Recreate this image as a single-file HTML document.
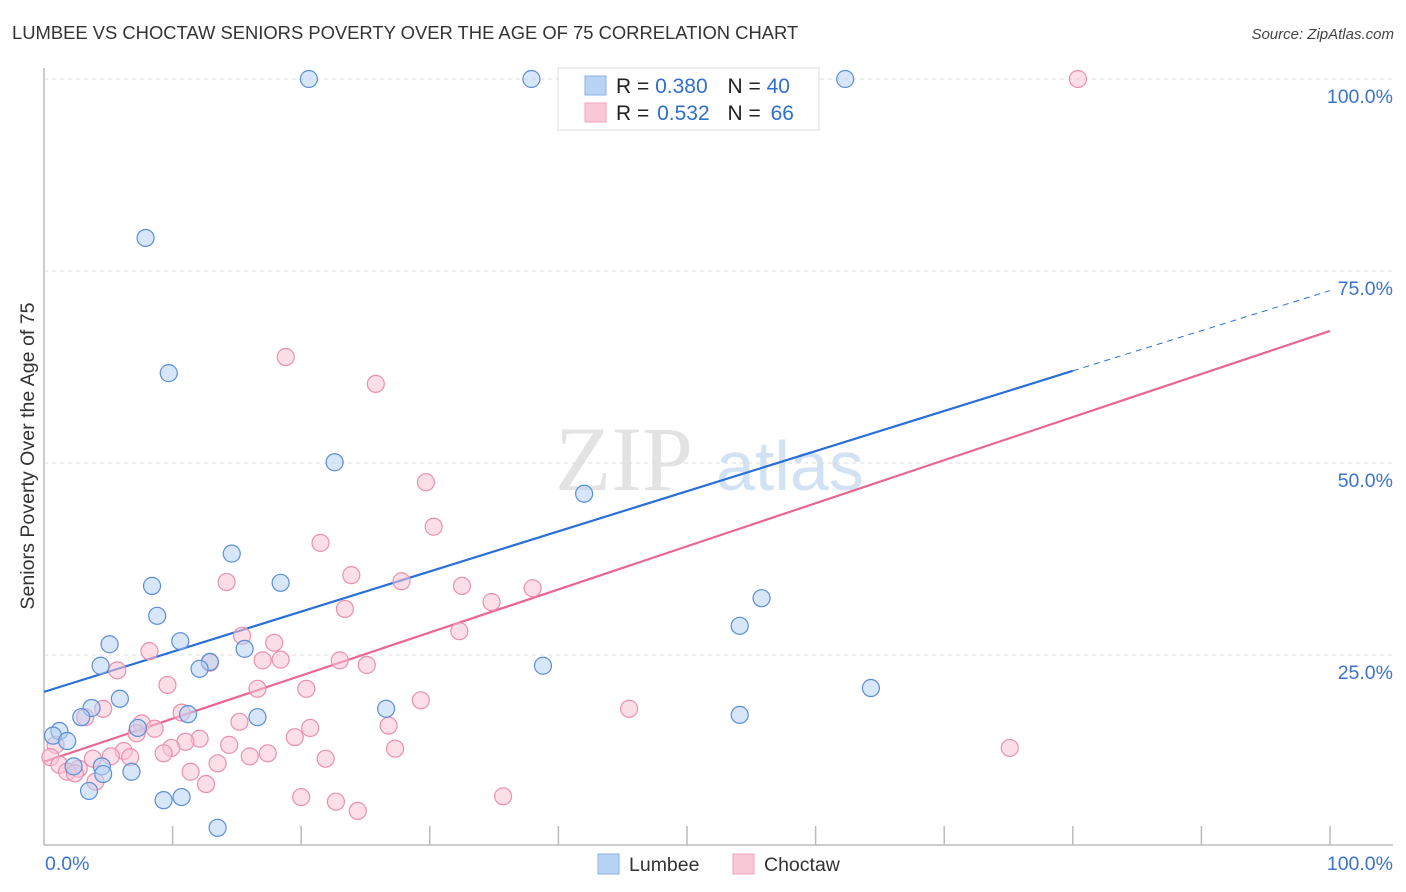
<!DOCTYPE html>
<html><head><meta charset="utf-8"><style>
body{margin:0;background:#fff;font-family:"Liberation Sans",sans-serif}
svg{display:block}
</style></head><body>
<svg id="chart" width="1406" height="892" viewBox="0 0 1406 892" xmlns="http://www.w3.org/2000/svg" font-family="Liberation Sans, sans-serif">
<text x="12" y="39" font-size="18.4" fill="#333">LUMBEE VS CHOCTAW SENIORS POVERTY OVER THE AGE OF 75 CORRELATION CHART</text>
<text x="1394" y="39" font-size="15" font-style="italic" fill="#444" text-anchor="end">Source: ZipAtlas.com</text>
<g>
<text x="555" y="490" font-size="92" font-family="Liberation Serif, serif" fill="#ddd" opacity="0.8">ZIP</text>
<text x="716" y="490" font-size="70" fill="#c9dcf1" opacity="0.8">atlas</text>
</g>
<g id="grid"></g>
<g id="axes"></g>
<text transform="translate(34,456) rotate(-90)" font-size="19.6" fill="#333" text-anchor="middle">Seniors Poverty Over the Age of 75</text>
<g id="lines"></g>
<g id="points"></g>
<g>
<rect x="558" y="68" width="261" height="62" fill="#fff" stroke="#ddd"/>
<rect x="585" y="76" width="21" height="19" fill="#b8d3f3" stroke="#8ab1e6"/>
<rect x="585" y="103" width="21" height="19" fill="#f9c8d6" stroke="#f0a3ba"/>
<text x="616" y="93" font-size="21" fill="#222">R = <tspan fill="#2f6fd0">0.380</tspan>  <tspan dx="14">N = </tspan><tspan fill="#2f6fd0">40</tspan></text>
<text x="616" y="120" font-size="21" fill="#222">R = <tspan fill="#2f6fd0" dx="2">0.532</tspan>  <tspan dx="12">N = </tspan><tspan fill="#2f6fd0" dx="4">66</tspan></text>
</g>
<g>
<rect x="598" y="854" width="21" height="20" fill="#b8d3f3" stroke="#8ab1e6"/>
<text x="629" y="871" font-size="19.5" fill="#333">Lumbee</text>
<rect x="733" y="854" width="21" height="20" fill="#f9c8d6" stroke="#f0a3ba"/>
<text x="764" y="871" font-size="19.5" fill="#333">Choctaw</text>
</g>
</svg>
<script>
const lumbeeX=[20.6,37.9,62.3,7.9,9.7,22.6,42.0,14.6,8.4,18.4,8.8,55.8,54.1,5.1,10.6,15.6,4.4,12.9,12.1,38.8,64.3,5.9,3.7,2.9,11.2,16.6,26.6,54.1,1.2,7.3,0.7,1.8,4.5,2.3,6.8,4.6,3.5,9.3,10.7,13.5];
const lumbeeY=[100,100,100,79.3,61.7,50.1,46.0,38.2,34.0,34.4,30.1,32.4,28.8,26.4,26.8,25.8,23.6,24.1,23.2,23.6,20.7,19.3,18.1,16.9,17.3,16.9,18.0,17.2,15.1,15.5,14.5,13.8,10.5,10.5,9.8,9.5,7.3,6.1,6.5,2.5];
const choctawX=[80.4,18.8,25.8,29.7,30.3,21.5,23.9,14.2,27.8,32.5,38.0,34.8,23.4,32.3,15.4,17.9,8.2,23.0,25.1,17.0,18.4,12.9,5.7,9.6,16.6,20.4,29.3,45.5,4.6,10.7,3.2,7.6,15.2,8.6,20.7,26.8,7.2,19.5,12.1,11.0,14.4,9.9,0.9,0.5,27.3,75.1,6.2,9.3,5.2,6.7,16.0,17.4,3.8,21.9,13.5,1.2,2.7,1.8,2.4,11.4,4.0,12.6,20.0,22.7,24.4,35.7];
const choctawY=[100,63.8,60.3,47.5,41.7,39.6,35.4,34.5,34.6,34.0,33.7,31.9,31.0,28.1,27.5,26.6,25.5,24.3,23.7,24.3,24.4,24.0,23.0,21.1,20.6,20.6,19.1,18.0,18.0,17.5,16.9,16.1,16.3,15.4,15.5,15.8,14.8,14.3,14.1,13.7,13.3,12.9,13.3,11.7,12.8,12.9,12.5,12.2,11.8,11.7,11.8,12.2,11.5,11.5,10.9,10.7,10.2,9.8,9.6,9.8,8.5,8.2,6.5,5.9,4.7,6.6];
const yTicks=[25,50,75,100];
const yTickLabels=["25.0%","50.0%","75.0%","100.0%"];
const xTickLabels=["0.0%","100.0%"];
const lumbeeTrend=[20.2,62.0];   // value at x=0, x=80
const choctawTrend=[11.1,67.2];  // value at x=0, x=100

const NS="http://www.w3.org/2000/svg";
const X0=44,X1=1330,Y0=847,Y100=79;
const sx=v=>X0+(X1-X0)*v/100;
const sy=v=>Y0-(Y0-Y100)*v/100;
function mk(tag,attrs,parent){const e=document.createElementNS(NS,tag);for(const k in attrs)e.setAttribute(k,attrs[k]);parent.appendChild(e);return e;}
const grid=document.getElementById('grid'),axes=document.getElementById('axes'),lines=document.getElementById('lines'),pts=document.getElementById('points');
yTicks.forEach((t,i)=>{
  const l=mk('line',{x1:X0,x2:1393,y1:sy(t),y2:sy(t),stroke:'#ddd','stroke-dasharray':'4,4'},grid);
  
  
  const tx=mk('text',{x:1393,y:sy(t)+24,'font-size':19.5,fill:'#3a74cf','text-anchor':'end'},axes);
  tx.textContent=yTickLabels[i];
  
  
});
mk('line',{x1:X0,x2:X0,y1:68,y2:845,stroke:'#bbb','stroke-width':1.5},axes);
mk('line',{x1:X0,x2:1393,y1:845,y2:845,stroke:'#bbb','stroke-width':1.5},axes);
for(let k=1;k<=10;k++){const x=X0+k*(X1-X0)/10;mk('line',{x1:x,x2:x,y1:826,y2:845,stroke:'#bbb','stroke-width':1.5},axes);}
const xl0=mk('text',{x:45,y:870,'font-size':19.5,fill:'#3a74cf'},axes);xl0.textContent=xTickLabels[0];


const xl1=mk('text',{x:1393,y:870,'font-size':19.5,fill:'#3a74cf','text-anchor':'end'},axes);xl1.textContent=xTickLabels[1];



function drawPts(xs,ys,fill,stroke,name){
  xs.forEach((x,i)=>{
    const c=mk('circle',{cx:sx(x),cy:sy(ys[i]),r:8.5,fill:fill,'fill-opacity':0.55,stroke:stroke,'stroke-width':1.2},pts);
    
    
  });
}
drawPts(choctawX,choctawY,'#f9c2d2','#eb90ac','choctaw-point');
drawPts(lumbeeX,lumbeeY,'#b6d1f2','#5a8fd8','lumbee-point');

const slopeB=(lumbeeTrend[1]-lumbeeTrend[0])/80;
const lb=mk('line',{x1:sx(0),y1:sy(lumbeeTrend[0]),x2:sx(80),y2:sy(lumbeeTrend[1]),stroke:'#2a6fd6','stroke-width':2.2},lines);


const lbd=mk('line',{x1:sx(80),y1:sy(lumbeeTrend[1]),x2:sx(100),y2:sy(lumbeeTrend[0]+slopeB*100),stroke:'#2a6fd6','stroke-width':1,'stroke-dasharray':'6,5'},lines);


const lp=mk('line',{x1:sx(0),y1:sy(choctawTrend[0]),x2:sx(100),y2:sy(choctawTrend[1]),stroke:'#e8668f','stroke-width':2.2},lines);


</script>
</body></html>
